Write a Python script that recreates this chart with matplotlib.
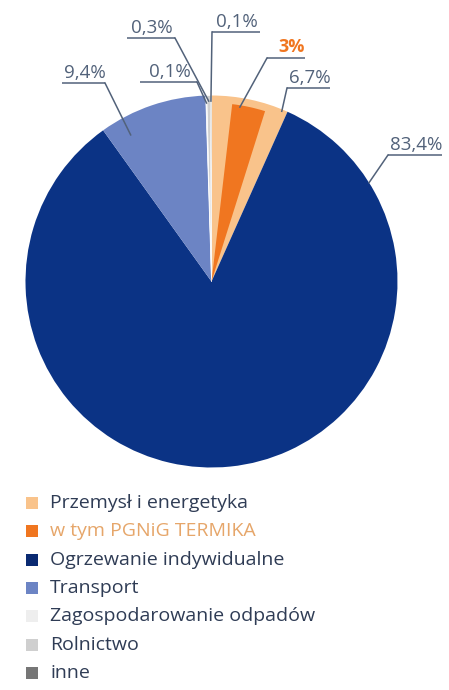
import matplotlib.pyplot as plt
from matplotlib.patches import Wedge, Rectangle
import numpy as np

# gas consumption by sector (%)
sectors = ["Przemysł i energetyka", "Ogrzewanie indywidualne", "Transport",
           "Zagospodarowanie odpadów", "Rolnictwo", "inne"]
shares = [6.7, 83.4, 9.4, 0.1, 0.3, 0.1]
termika_share = 3.0  # part of "Przemysł i energetyka"
termika_name = "w tym PGNiG TERMIKA"

colors = ["#F9C38B", "#0B3385", "#6C84C4", "#EEEEEE", "#CFCFCF", "#767676"]
termika_color = "#F07620"

legend_names = [sectors[0], termika_name] + sectors[1:]
legend_square = ["#F9C38B", "#F07620", "#0A2A72", "#6C84C4", "#EEEEEE", "#CFCFCF", "#767676"]

W, H = 449, 690
def py(y):
    # pixel row -> data y
    return H - y

plt.rcParams['font.family'] = ['Open Sans', 'DejaVu Sans']
fig = plt.figure(figsize=(W / 100, H / 100), dpi=100)
ax = fig.add_axes([0, 0, 1, 1])

cx, cy, R = 211.5, py(281.5), 186
wedges, _ = ax.pie(shares, colors=colors, startangle=90, counterclock=False,
                   center=(cx, cy), radius=R,
                   wedgeprops=dict(linewidth=0))
# thin white separators only around the tiny slices
for w in wedges[3:]:
    w.set_edgecolor("white")
    w.set_linewidth(0.5)

# inner wedge for PGNiG TERMIKA, centred inside the industry slice
w0 = wedges[0]
mid = (w0.theta1 + w0.theta2) / 2
half = termika_share * 360 / 100 / 2
termika = Wedge((cx, cy), R * 0.96, mid - half, mid + half,
                facecolor=termika_color, edgecolor="none")
ax.add_patch(termika)
all_wedges = list(wedges) + [termika]


def anchor(w, f, rf):
    # point inside wedge w: f = fraction clockwise from its start, rf = radius factor
    a = np.radians(w.theta2 - f * (w.theta2 - w.theta1))
    return cx + R * rf * np.cos(a), cy + R * rf * np.sin(a)


label_color = "#52627A"
# value label: text, wedge index, fraction, radius factor, underline x0, x1, row y, joined end
labels = [
    ("83,4%", 1, 0.1125, 1.0, 388, 442, 155, "left"),
    ("6,7%", 0, 0.93, 0.99, 287, 330, 88, "left"),
    ("3%", 6, 0.24, 0.95, 267, 305, 58, "left"),
    ("0,1%", 5, 0.5, 0.97, 212, 260, 32, "left"),
    ("0,3%", 4, 0.5, 0.97, 127, 175, 38, "right"),
    ("0,1%", 3, 0.5, 0.96, 140, 197, 82, "right"),
    ("9,4%", 2, 0.2, 0.9, 62, 105, 83, "right"),
]
for text, wi, f, rf, x0, x1, uy, end in labels:
    ax_, ay_ = anchor(all_wedges[wi], f, rf)
    jx = x0 if end == "left" else x1
    ax.plot([x0, x1], [py(uy), py(uy)], color=label_color, lw=1.1, solid_capstyle="butt")
    ax.plot([jx, ax_], [py(uy), ay_], color=label_color, lw=1.1)
    if text == "3%":
        ax.text(x1, py(uy) + 2, text, ha="right", va="bottom", fontsize=13,
                color=termika_color, fontweight="bold")
    else:
        ax.text((x0 + x1) / 2 + 1, py(uy) + 1, text, ha="center", va="bottom",
                fontsize=13.5, color=label_color)

# legend
text_color = "#2F3C55"
for i, (name, sq) in enumerate(zip(legend_names, legend_square)):
    ry = py(503 + 28.3 * i)
    ax.add_patch(Rectangle((26, ry - 6), 12, 12, facecolor=sq, edgecolor="none"))
    tc = "#E6A66A" if name == termika_name else text_color
    ax.text(50, ry, name, ha="left", va="center", fontsize=14, color=tc)

ax.set_xlim(0, W)
ax.set_ylim(0, H)
ax.set_aspect("auto")
ax.axis("off")
fig.savefig("out.png", dpi=100)
